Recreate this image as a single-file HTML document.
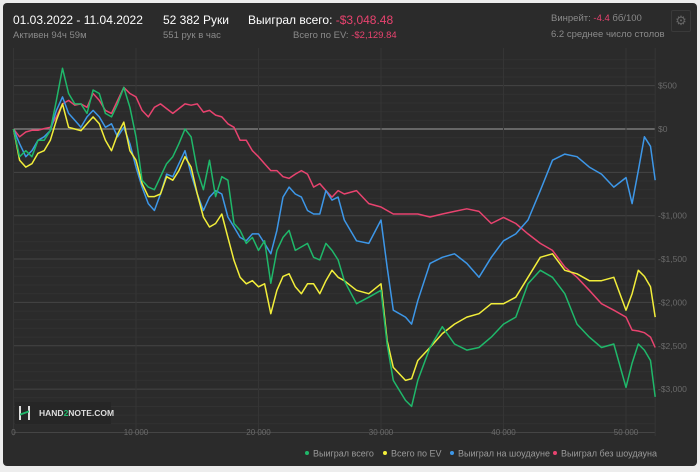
<!DOCTYPE html>
<html><head><meta charset="utf-8">
<style>
html,body{margin:0;padding:0;background:#ededed;width:700px;height:472px;overflow:hidden;font-family:"Liberation Sans","DejaVu Sans",sans-serif;}
#panel{position:absolute;left:3px;top:3px;width:694px;height:463px;background:#2b2b2b;border-radius:4px;}
.t{position:absolute;white-space:nowrap;}
</style></head><body>
<div id="panel"></div>
<div class="t" style="left:13px;top:13px;color:#fff;font-size:12px;">01.03.2022 - 11.04.2022</div>
<div class="t" style="left:13px;top:30px;color:#8a8a8a;font-size:9.5px;">Активен 94ч 59м</div>
<div class="t" style="left:163px;top:13px;color:#fff;font-size:12px;">52 382 Руки</div>
<div class="t" style="left:163px;top:30px;color:#8a8a8a;font-size:9.5px;">551 рук в час</div>
<div class="t" style="left:248px;top:13px;color:#fff;font-size:12px;">Выиграл всего: <span style="color:#e8436f">-$3,048.48</span></div>
<div class="t" style="left:293px;top:30px;color:#8a8a8a;font-size:9.5px;">Всего по EV: <span style="color:#e8436f">-$2,129.84</span></div>
<div class="t" style="left:551px;top:13px;color:#8a8a8a;font-size:9.5px;">Винрейт: <span style="color:#e8436f">-4.4</span> бб/100</div>
<div class="t" style="left:551px;top:29px;color:#8a8a8a;font-size:9.5px;">6.2 среднее число столов</div>
<div style="position:absolute;left:671px;top:10px;width:18px;height:20px;border:1px solid #3a3a3a;border-radius:2px;color:#666;font-size:13px;text-align:center;line-height:20px;">⚙</div>
<svg id="chart" width="700" height="472" style="position:absolute;left:0;top:0;"></svg>
<script>
const hands=[0,0.5,1,1.5,2,2.5,3,3.5,4,4.5,5,5.5,6,6.5,7,7.5,8,8.5,9,9.5,10,10.5,11,11.5,12,12.5,13,13.5,14,14.5,15,15.5,16,16.5,17,17.5,18,18.5,19,19.5,20,20.5,21,21.5,22,22.5,23,23.5,24,24.5,25,25.5,26,26.5,27,
28,29,30,30.5,31,32,32.5,33,34,35,36,37,38,39,40,41,42,43,44,45,46,47,48,49,50,50.5,51,51.5,52,52.38];
const wonTotal=[0,-320,-250,-320,-130,-130,-20,330,700,410,290,290,180,450,410,180,140,290,480,250,-90,-590,-670,-700,-550,-400,-320,-170,0,-90,-480,-700,-360,-780,-550,-590,-1090,-1170,-1320,-1250,-1400,-1290,-1780,-1400,-1250,-1170,-1400,-1360,-1320,-1480,-1510,-1320,-1400,-1510,-1750,
-2015,-1940,-1860,-2480,-2900,-3130,-3200,-2900,-2520,-2280,-2480,-2550,-2520,-2400,-2250,-2170,-1785,-1630,-1710,-1900,-2250,-2400,-2520,-2480,-2980,-2700,-2480,-2550,-2670,-3090];
const evTotal=[0,-360,-440,-400,-280,-250,-130,100,290,20,0,-20,60,140,60,-130,-250,-60,80,-250,-360,-630,-780,-780,-750,-550,-590,-480,-320,-440,-750,-1015,-1130,-1090,-980,-1250,-1515,-1710,-1785,-1750,-1820,-1785,-2130,-1860,-1700,-1670,-1820,-1900,-1785,-1785,-1900,-1750,-1630,-1710,-1750,
-1860,-1900,-1785,-2440,-2750,-2900,-2880,-2670,-2520,-2360,-2250,-2170,-2130,-2015,-2015,-1940,-1710,-1480,-1440,-1630,-1670,-1750,-1750,-1710,-2090,-1900,-1630,-1700,-1820,-2170];
const wonShowdown=[0,-170,-320,-250,-130,-90,-20,215,370,180,100,20,140,215,140,20,60,-90,20,-170,-440,-670,-860,-940,-750,-520,-550,-400,-250,-520,-750,-940,-785,-710,-750,-1015,-1130,-1250,-1290,-1210,-1210,-1320,-1440,-1170,-785,-670,-750,-785,-940,-980,-980,-710,-820,-785,-1050,
-1290,-1320,-1050,-1590,-2090,-2170,-2250,-1980,-1550,-1480,-1440,-1550,-1710,-1480,-1290,-1210,-1050,-710,-360,-290,-320,-440,-520,-670,-560,-860,-480,-90,-200,-590];
const wonNonShowdown=[0,-90,-35,-15,-15,5,20,140,290,330,275,290,250,410,330,215,180,330,480,410,370,215,140,250,290,235,180,235,290,275,290,195,215,160,140,60,20,-130,-130,-250,-320,-400,-480,-480,-550,-570,-520,-480,-520,-670,-630,-710,-785,-710,-750,
-710,-860,-900,-940,-980,-980,-980,-980,-1015,-980,-950,-920,-950,-1090,-1020,-1090,-1210,-1320,-1400,-1590,-1710,-1860,-2015,-2090,-2170,-2320,-2330,-2350,-2400,-2520];
const xTicks=[0,10000,20000,30000,40000,50000];
const xTickLabels=["0","10 000","20 000","30 000","40 000","50 000"];
const yTicks=[500,0,-1000,-1500,-2000,-2500,-3000];
const yTickLabels=["$500","$0","-$1,000","-$1,500","-$2,000","-$2,500","-$3,000"];
const seriesNames=["Выиграл всего","Всего по EV","Выиграл на шоудауне","Выиграл без шоудауна"];

const NS="http://www.w3.org/2000/svg";
const svg=document.getElementById('chart');
const X=h=>13.5+h*0.01225;
const Y=v=>129-v*0.0867;
const plotTop=48,plotBottom=436,plotLeft=13.5,plotRight=655;
function mk(tag,attrs,parent){const e=document.createElementNS(NS,tag);for(const k in attrs)e.setAttribute(k,attrs[k]);(parent||svg).appendChild(e);return e;}
const grid=mk('g',{});


for(let v=800;v>=-3500;v-=100){const y=Y(v);if(y<plotTop||y>plotBottom)continue;
  const major=v%500===0;
  mk('line',{x1:plotLeft,x2:plotRight,y1:y,y2:y,stroke:v===0?'#8a8a8a':(major?'#454545':'#323232'),'stroke-width':v===0?1.2:1},grid);}
[0,10000,20000,30000,40000,50000,52382].forEach(h=>mk('line',{x1:X(h),x2:X(h),y1:plotTop,y2:plotBottom,stroke:'#353535'},grid));
xTicks.forEach((h,i)=>{const t=mk('text',{x:X(h),y:435,fill:'#6a6a6a','font-size':8,'text-anchor':'middle','font-family':'Liberation Sans, sans-serif'});t.textContent=xTickLabels[i];
  
  });
yTicks.forEach((v,i)=>{const t=mk('text',{x:658,y:Y(v)+3,fill:'#6a6a6a','font-size':8.5,'font-family':'Liberation Sans, sans-serif'});t.textContent=yTickLabels[i];
  
  });
const colors=['#1fb86a','#f2ee3a','#3d97e8','#e8436f'];
const data=[wonTotal,evTotal,wonShowdown,wonNonShowdown];
const order=[3,2,1,0];
order.forEach(i=>{const d=data[i].map((v,j)=>(j?'L':'M')+X(hands[j]*1000).toFixed(1)+' '+Y(v).toFixed(1)).join(' ');
  const p=mk('path',{d:d,fill:'none',stroke:colors[i],'stroke-width':1.5,'stroke-linejoin':'round'});
  
  });
const lx=[307,385,452,555];
seriesNames.forEach((n,i)=>{const g=mk('g',{});
  
  
  mk('circle',{cx:lx[i],cy:453,r:2,fill:colors[i]},g);
  const t=mk('text',{x:lx[i]+6,y:456.5,fill:'#9a9a9a','font-size':9,'font-family':'Liberation Sans, sans-serif'},g);t.textContent=n;});
</script>
<div style="position:absolute;left:15px;top:402px;width:96px;height:22px;background:#262626;">
  <div style="position:absolute;left:4px;top:4px;width:2px;height:14px;background:#ddd;"></div>
  <div style="position:absolute;left:13px;top:4px;width:2px;height:14px;background:#ddd;"></div>
  <div style="position:absolute;left:5px;top:10px;width:9px;height:2px;background:#1fb86a;transform:skewY(-20deg);"></div>
  <div class="t" style="left:24px;top:6px;color:#ddd;font-size:8.5px;font-weight:bold;">HAND<span style="color:#1fb86a">2</span>NOTE.COM</div>
</div>
</body></html>
